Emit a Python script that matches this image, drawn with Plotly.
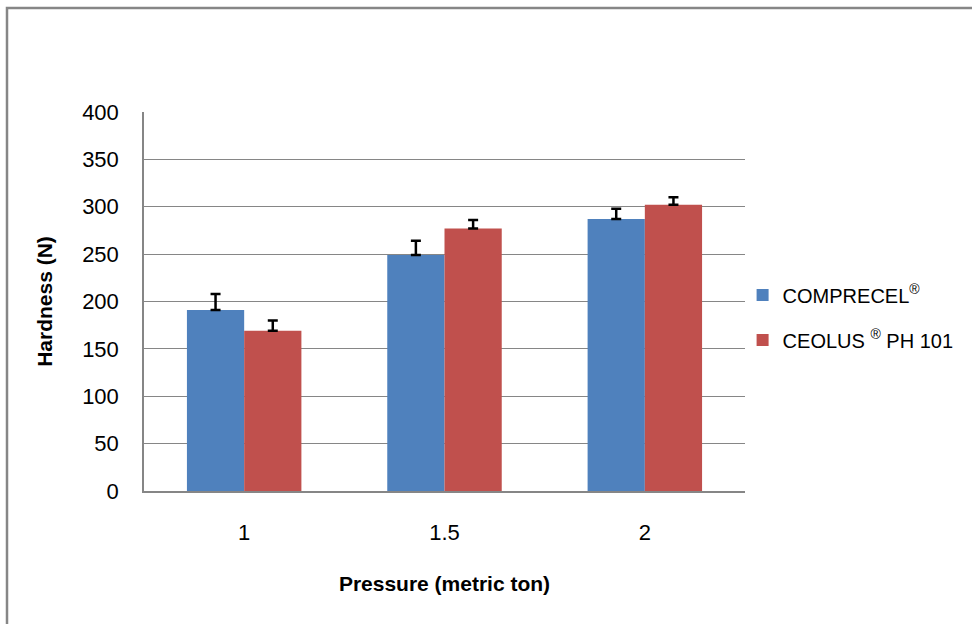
import plotly.graph_objects as go

categories = ["1", "1.5", "2"]
comprecel = [191, 249, 287]
comprecel_err = [17, 15, 11]
ceolus = [169, 277, 302]
ceolus_err = [11, 9, 8]
y_ticks = [0, 50, 100, 150, 200, 250, 300, 350, 400]

FONT = "Liberation Sans, Arial, sans-serif"
GRAY = "#868686"

fig = go.Figure()
fig.add_trace(go.Bar(
    x=categories, y=comprecel, name="COMPRECEL<sup>®</sup>",
    marker=dict(color="#4F81BD", line=dict(width=0)),
    error_y=dict(type="data", array=comprecel_err, arrayminus=[0]*len(comprecel_err),
                 color="black", thickness=2.5, width=5),
    legendgroup="a",
))
fig.add_trace(go.Bar(
    x=categories, y=ceolus, name="CEOLUS <sup>®</sup> PH 101",
    marker=dict(color="#C0504D", line=dict(width=0)),
    error_y=dict(type="data", array=ceolus_err, arrayminus=[0]*len(ceolus_err),
                 color="black", thickness=2.5, width=5),
    legendgroup="b",
))

fig.update_layout(
    width=972, height=624,
    margin=dict(l=144, r=227, t=112, b=133, autoexpand=False),
    paper_bgcolor="white", plot_bgcolor="white",
    barmode="group", bargap=0.4286, bargroupgap=0,
    font=dict(family=FONT, color="black", size=22),
    showlegend=True,
    legend=dict(x=0.996, xanchor="left", y=0.458, yanchor="middle",
                font=dict(size=20, family=FONT), tracegroupgap=16,
                traceorder="grouped", itemwidth=30,
                bgcolor="rgba(0,0,0,0)"),
    xaxis=dict(
        showline=True, linecolor=GRAY, linewidth=1.5, showgrid=False,
        ticks="", ticklabelstandoff=21, tickfont=dict(size=22), automargin=False,
        title=dict(text="<b>Pressure (metric ton)</b>", font=dict(size=21), standoff=32),
    ),
    yaxis=dict(
        range=[0, 400], tickvals=y_ticks, showline=True, linecolor=GRAY, linewidth=1.5,
        showgrid=True, gridcolor=GRAY, gridwidth=1, zeroline=False, automargin=False,
        ticks="", ticklabelstandoff=19, tickfont=dict(size=22),
        title=dict(text="<b>Hardness (N)</b>", font=dict(size=21), standoff=24),
    ),
    shapes=[dict(type="rect", xref="paper", yref="paper",
                 x0=(7 - 144) / 601, x1=(990 - 144) / 601,
                 y0=(491 - 650) / 379, y1=(491 - 8) / 379,
                 line=dict(color=GRAY, width=2.5), fillcolor="rgba(0,0,0,0)", layer="below")],
)

fig.write_html("out.html",
               config={"displayModeBar": False},
               post_script=("document.documentElement.style.overflow='hidden';"
                            "document.body.style.overflow='hidden';"
                            "document.body.style.margin='0';document.body.style.padding='0';"))
